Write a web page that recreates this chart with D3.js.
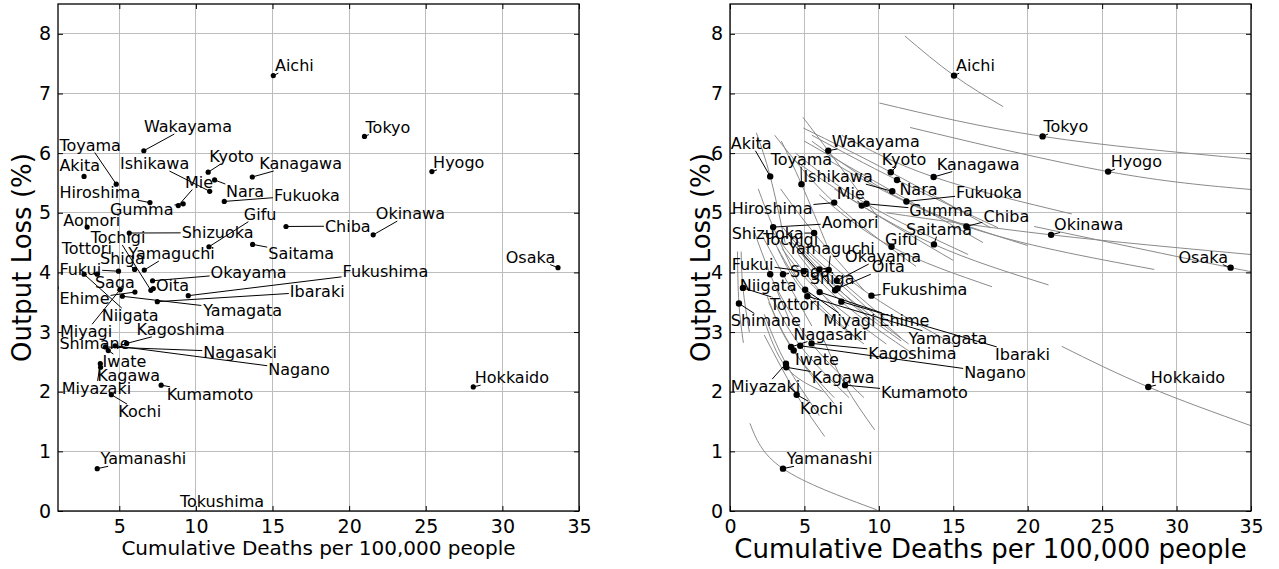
<!DOCTYPE html>
<html lang="en">
<head>
<meta charset="UTF-8">
<title>Output Loss vs Cumulative Deaths</title>
<script src="https://d3js.org/d3.v7.min.js"></script>
<style>
  body { margin: 0; background: #fff; }
  svg text { font-family: "DejaVu Sans", sans-serif; fill: #000; }
</style>
</head>
<body>
<div id="chart"></div>
<script>
  const prefectures = ["Hokkaido","Aomori","Iwate","Miyagi","Akita","Yamagata","Fukushima","Ibaraki","Tochigi","Gumma",
    "Saitama","Chiba","Tokyo","Kanagawa","Niigata","Toyama","Ishikawa","Fukui","Yamanashi","Nagano",
    "Gifu","Shizuoka","Aichi","Mie","Shiga","Kyoto","Osaka","Hyogo","Nara","Wakayama",
    "Tottori","Shimane","Okayama","Hiroshima","Yamaguchi","Tokushima","Kagawa","Ehime","Kochi","Fukuoka",
    "Saga","Nagasaki","Kumamoto","Oita","Miyazaki","Kagoshima","Okinawa"];

  // cumulative deaths per 100,000 people
  const deaths = [28.1,2.9,4.28,5.05,2.7,5.2,9.5,7.48,7.06,9.17,
    13.7,15.88,21.0,13.68,2.7,4.8,10.9,4.95,3.56,4.72,
    10.85,5.65,15.05,8.85,6.0,10.8,33.63,25.4,11.22,6.6,
    0.87,0.6,7.17,7.0,6.63,11.5,3.78,6.02,4.48,11.85,
    3.56,4.1,7.73,7.22,3.76,5.48,21.57];

  // output loss (%)
  const outputLoss = [2.08,4.76,2.69,3.71,5.61,3.6,3.61,3.51,3.70,5.15,
    4.47,4.77,6.28,5.6,3.97,5.48,5.36,4.02,0.71,2.77,
    4.43,4.66,7.30,5.12,4.05,5.68,4.08,5.69,5.55,6.04,
    3.74,3.48,3.86,5.17,4.04,-0.4,2.41,3.67,1.95,5.19,
    3.97,2.75,2.11,3.73,2.47,2.81,4.63];

  // trade-off curve ends for the right panel (start, end)
  const curveFrom = {Hokkaido:[22.29,2.76],Aomori:[1.9,5.4],Iwate:[2.6,3.5],Miyagi:[3.0,4.5],Akita:[1.77,6.34],
    Yamagata:[3.2,4.4],Fukushima:[5.6,4.4],Ibaraki:[4.6,4.3],Tochigi:[4.2,4.5],Gumma:[4.4,6.0],
    Saitama:[7.0,5.4],Chiba:[6.5,5.9],Tokyo:[10.04,6.84],Kanagawa:[7.5,6.3],Niigata:[1.6,4.7],
    Toyama:[3.45,6.2],Ishikawa:[5.0,6.2],Fukui:[2.8,4.7],Yamanashi:[1.34,1.47],Nagano:[2.8,3.6],
    Gifu:[6.0,5.3],Shizuoka:[3.4,5.4],Aichi:[11.76,7.96],Mie:[4.2,5.9],Shiga:[3.4,4.8],
    Kyoto:[4.93,6.42],Osaka:[20.43,4.77],Hyogo:[12.1,6.43],Nara:[5.5,6.3],Wakayama:[4.9,6.6],
    Tottori:[0.75,4.35],Shimane:[0.5,4.35],Okayama:[4.0,4.6],Hiroshima:[3.0,6.3],Yamaguchi:[3.8,4.7],
    Kagawa:[2.3,3.2],Ehime:[3.5,4.4],Kochi:[2.3,2.95],Fukuoka:[5.5,6.2],Saga:[2.2,4.6],
    Nagasaki:[2.5,3.6],Kumamoto:[6.25,2.9],Oita:[4.2,4.5],Miyazaki:[2.3,3.3],Kagoshima:[3.2,3.7],
    Okinawa:[10.5,5.0]};
  const curveTo = {Hokkaido:[35,1.43],Aomori:[4.5,3.9],Iwate:[7.0,1.8],Miyagi:[8.5,2.9],Akita:[3.7,4.5],
    Yamagata:[9.0,2.8],Fukushima:[15.0,2.8],Ibaraki:[12.5,2.6],Tochigi:[11.5,2.85],Gumma:[16.0,4.3],
    Saitama:[21.4,3.79],Chiba:[28.5,4.05],Tokyo:[35,5.9],Kanagawa:[22.96,4.98],Niigata:[4.0,3.2],
    Toyama:[6.6,4.4],Ishikawa:[17.0,4.5],Fukui:[8.0,3.1],Yamanashi:[9.86,0.02],Nagano:[8.0,1.9],
    Gifu:[17.6,3.76],Shizuoka:[9.0,3.7],Aichi:[18.35,6.78],Mie:[15.0,4.2],Shiga:[9.5,3.2],
    Kyoto:[17.5,4.75],Osaka:[35,4.03],Hyogo:[35,5.39],Nara:[18.0,4.75],Wakayama:[10.0,4.9],
    Tottori:[1.3,3.0],Shimane:[0.9,2.82],Okayama:[11.5,2.9],Hiroshima:[12.5,4.1],Yamaguchi:[11.0,3.1],
    Kagawa:[6.25,2.0],Ehime:[10.5,2.8],Kochi:[6.36,1.25],Fukuoka:[20.0,4.45],Saga:[5.5,3.1],
    Nagasaki:[7.0,1.9],Kumamoto:[9.72,1.36],Oita:[12.0,2.8],Miyazaki:[6.0,1.6],Kagoshima:[9.0,1.9],
    Okinawa:[35,4.3]};

  // where each name label sits (left edge, middle), per panel
  const labelAtLeft = {Hokkaido:[28.2,2.24],Aomori:[1.35,4.88],Iwate:[3.91,2.51],Miyagi:[1.13,3.01],Akita:[1.09,5.79],
    Yamagata:[10.48,3.37],Fukushima:[19.57,4.02],Ibaraki:[16.13,3.68],Tochigi:[3.13,4.59],Gumma:[4.39,5.06],
    Saitama:[14.72,4.32],Chiba:[18.42,4.78],Tokyo:[21.07,6.44],Kanagawa:[14.13,5.83],Niigata:[3.85,3.28],
    Toyama:[1.09,6.14],Ishikawa:[5.04,5.83],Fukui:[1.09,4.06],Yamanashi:[3.78,0.88],Nagano:[14.72,2.37],
    Gifu:[13.13,4.98],Shizuoka:[9.07,4.67],Aichi:[15.16,7.47],Mie:[9.28,5.52],Shiga:[3.74,4.24],
    Kyoto:[10.87,5.94],Osaka:[30.22,4.26],Hyogo:[25.48,5.85],Nara:[11.96,5.36],Wakayama:[6.61,6.45],
    Tottori:[1.24,4.41],Shimane:[1.09,2.82],Okayama:[10.96,4.0],Hiroshima:[1.09,5.34],Yamaguchi:[5.59,4.32],
    Tokushima:[8.96,0.17],Kagawa:[3.56,2.27],Ehime:[1.09,3.56],Kochi:[4.93,1.67],Fukuoka:[15.09,5.3],
    Saga:[3.41,3.83],Nagasaki:[10.48,2.67],Kumamoto:[8.09,1.96],Oita:[7.39,3.79],Miyazaki:[1.24,2.06],
    Kagoshima:[6.13,3.05],Okinawa:[21.74,4.99]};
  const labelAtRight = {Hokkaido:[28.27,2.24],Aomori:[6.16,4.84],Iwate:[4.37,2.55],Miyagi:[6.27,3.2],Akita:[0.05,6.17],
    Yamagata:[11.99,2.9],Fukushima:[10.19,3.72],Ibaraki:[17.81,2.63],Tochigi:[2.24,4.55],Gumma:[12.05,5.04],
    Saitama:[11.83,4.73],Chiba:[17.03,4.95],Tokyo:[21.06,6.45],Kanagawa:[13.89,5.82],Niigata:[0.65,3.79],
    Toyama:[2.73,5.9],Ishikawa:[4.93,5.61],Fukui:[0.11,4.14],Yamanashi:[3.81,0.88],Nagano:[15.73,2.32],
    Gifu:[10.42,4.56],Shizuoka:[0.11,4.66],Aichi:[15.19,7.47],Mie:[7.17,5.33],Shiga:[5.36,3.9],
    Kyoto:[10.19,5.9],Osaka:[30.13,4.26],Hyogo:[25.58,5.86],Nara:[11.38,5.4],Wakayama:[6.83,6.2],
    Tottori:[2.69,3.47],Shimane:[0.05,3.19],Okayama:[7.73,4.27],Hiroshima:[0.11,5.08],Yamaguchi:[3.92,4.41],
    Kagawa:[5.49,2.25],Ehime:[10.03,3.2],Kochi:[4.7,1.72],Fukuoka:[15.19,5.34],
    Saga:[4.03,4.02],Nagasaki:[4.26,2.97],Kumamoto:[10.15,1.99],Oita:[9.52,4.1],Miyazaki:[0.05,2.09],
    Kagoshima:[9.29,2.65],Okinawa:[21.77,4.8]};

  const xTicksLeft = [5, 10, 15, 20, 25, 30, 35];
  const xTicksRight = [0, 5, 10, 15, 20, 25, 30, 35];
  const yTicks = [0, 1, 2, 3, 4, 5, 6, 7, 8];
  const xTitle = "Cumulative Deaths per 100,000 people";
  const yTitle = "Output Loss (%)";

  const width = 1279, height = 569;
  const plotTop = 4, plotBottom = 511;

  const svg = d3.select("#chart").append("svg")
    .attr("width", width)
    .attr("height", height);

  svg.append("rect").attr("width", width).attr("height", height).attr("fill", "#fff");

  const data = prefectures.map((name, i) => ({ name, x: deaths[i], y: outputLoss[i] }));

  function drawPanel(cfg) {
    const x = d3.scaleLinear().domain(cfg.xDomain).range([cfg.left, cfg.right]);
    const y = d3.scaleLinear().domain([0, 8.5]).range([plotBottom, plotTop]);
    const g = svg.append("g");

    const clipId = "clip" + cfg.id;
    svg.append("clipPath").attr("id", clipId)
      .append("rect")
        .attr("x", cfg.left).attr("y", plotTop)
        .attr("width", cfg.right - cfg.left).attr("height", plotBottom - plotTop);

    // grid
    const grid = g.append("g").attr("stroke", "#bdbdbd").attr("stroke-width", 1)
      .attr("shape-rendering", "crispEdges");
    grid.selectAll(".gx").data(cfg.xTicks).join("line")
      .attr("x1", d => x(d)).attr("x2", d => x(d))
      .attr("y1", plotTop).attr("y2", plotBottom);
    grid.selectAll(".gy").data(yTicks).join("line")
      .attr("x1", cfg.left).attr("x2", cfg.right)
      .attr("y1", d => y(d)).attr("y2", d => y(d));

    // trade-off curves
    if (cfg.curves) {
      const line = d3.line().x(d => x(d[0])).y(d => y(d[1])).curve(d3.curveNatural);
      g.append("g").attr("clip-path", `url(#${clipId})`)
        .attr("fill", "none").attr("stroke", "#8a8a8a").attr("stroke-width", 1)
        .selectAll("path")
        .data(data.filter(d => curveFrom[d.name]))
        .join("path")
          .attr("d", d => line([curveFrom[d.name], [d.x, d.y], curveTo[d.name]]));
    }

    const segG = g.append("g").attr("clip-path", `url(#${clipId})`)
      .attr("stroke", "#000").attr("stroke-width", 1);
    const ptG = g.append("g").attr("clip-path", `url(#${clipId})`);
    const lblG = g.append("g").attr("font-size", 16);

    // axes with inward ticks
    g.append("g").attr("transform", `translate(0,${plotBottom})`)
      .call(d3.axisBottom(x).tickValues(cfg.xTicks).tickSize(-5).tickPadding(9));
    g.append("g").attr("transform", `translate(${cfg.left},0)`)
      .call(d3.axisLeft(y).tickValues(yTicks).tickSize(-5).tickPadding(7));
    g.append("g").attr("transform", `translate(0,${plotTop})`)
      .call(d3.axisTop(x).tickValues(cfg.xTicks).tickSize(-5).tickFormat(""));
    g.append("g").attr("transform", `translate(${cfg.right},0)`)
      .call(d3.axisRight(y).tickValues(yTicks).tickSize(-5).tickFormat(""));
    g.selectAll(".domain").remove();
    g.selectAll(".tick line").attr("stroke", "#000");
    g.selectAll(".tick text").attr("font-size", 19)
      .attr("font-family", "DejaVu Sans, sans-serif").attr("fill", "#000");

    // frame
    g.append("rect")
      .attr("x", cfg.left).attr("y", plotTop)
      .attr("width", cfg.right - cfg.left).attr("height", plotBottom - plotTop)
      .attr("fill", "none").attr("stroke", "#000").attr("stroke-width", 1.3);

    // points
    ptG.selectAll("circle").data(data).join("circle")
      .attr("cx", d => x(d.x)).attr("cy", d => y(d.y))
      .attr("r", cfg.r).attr("fill", "#000");

    // labels and leader segments (segment runs toward the label centre, cut at its box)
    const labelled = data.filter(d => cfg.labels[d.name]);
    lblG.selectAll("text").data(labelled).join("text")
      .attr("x", d => x(cfg.labels[d.name][0]))
      .attr("y", d => y(cfg.labels[d.name][1]))
      .attr("dy", "0.36em")
      .text(d => d.name)
      .each(function (d) {
        if (d.x < cfg.xDomain[0] || d.y < 0) return;
        const px = x(d.x), py = y(d.y);
        const b = this.getBBox();
        const x0 = b.x - 1, x1 = b.x + b.width + 1, y0 = b.y + 2, y1 = b.y + b.height - 2;
        if (px >= x0 && px <= x1 && py >= y0 && py <= y1) return;
        const dx = (x0 + x1) / 2 - px, dy = (y0 + y1) / 2 - py;
        let tHit = 1;
        [[x0, "x"], [x1, "x"], [y0, "y"], [y1, "y"]].forEach(([v, k]) => {
          const tt = k === "x" ? (dx ? (v - px) / dx : -1) : (dy ? (v - py) / dy : -1);
          if (tt <= 0 || tt > 1) return;
          const hx = px + dx * tt, hy = py + dy * tt;
          if (hx >= x0 - 0.01 && hx <= x1 + 0.01 && hy >= y0 - 0.01 && hy <= y1 + 0.01) {
            tHit = Math.min(tHit, tt);
          }
        });
        const ex = px + dx * tHit, ey = py + dy * tHit;
        if (Math.hypot(ex - px, ey - py) < 4) return;
        segG.append("line")
          .attr("x1", px).attr("y1", py).attr("x2", ex).attr("y2", ey);
      });

    // axis titles
    g.append("text")
      .attr("x", (cfg.left + cfg.right) / 2).attr("y", cfg.xTitleY)
      .attr("text-anchor", "middle").attr("font-size", cfg.xTitleSize)
      .text(xTitle);
    g.append("text")
      .attr("transform", `translate(${cfg.yTitleX},${(plotTop + plotBottom) / 2}) rotate(-90)`)
      .attr("text-anchor", "middle").attr("font-size", 26)
      .text(yTitle);
  }

  drawPanel({ id: "L", left: 58, right: 579, xDomain: [1, 35], xTicks: xTicksLeft,
    labels: labelAtLeft, curves: false, r: 2.6, xTitleY: 555, xTitleSize: 20, yTitleX: 31 });
  drawPanel({ id: "R", left: 730, right: 1251, xDomain: [0, 35], xTicks: xTicksRight,
    labels: labelAtRight, curves: true, r: 3.2, xTitleY: 558, xTitleSize: 26, yTitleX: 710 });
</script>
</body>
</html>
